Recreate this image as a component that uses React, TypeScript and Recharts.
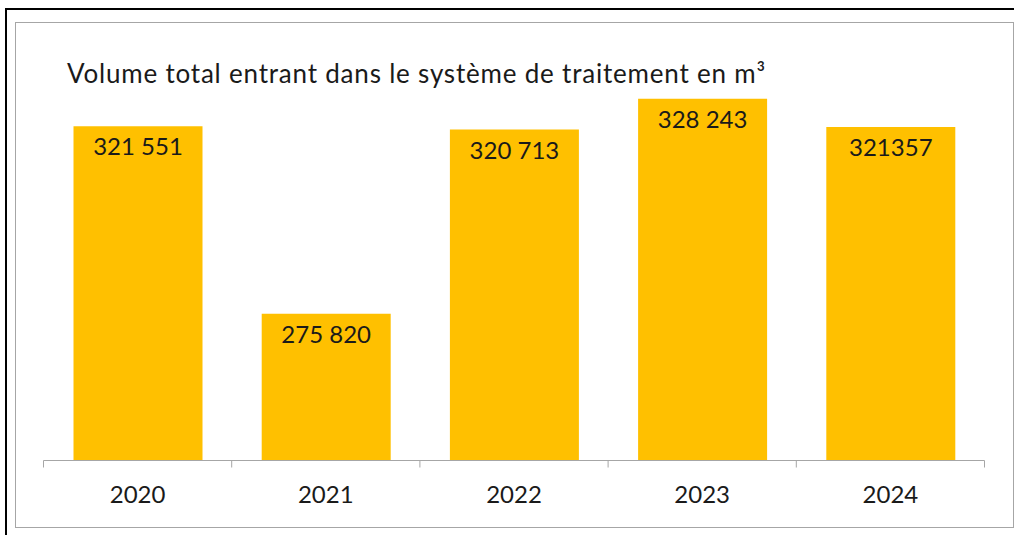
import React from 'react';
import { BarChart, Bar, XAxis, YAxis, LabelList } from 'recharts';

const years = ['2020', '2021', '2022', '2023', '2024'];
const volumes = [321551, 275820, 320713, 328243, 321357];
const valueLabels = ['321 551', '275 820', '320 713', '328 243', '321357'];
const yDomain: [number, number] = [240000, 330000];
const title = 'Volume total entrant dans le système de traitement en m³';

const data = years.map((y, i) => ({ year: y, value: volumes[i], label: valueLabels[i] }));

const W = 1014;
const H = 535;
const M = { top: 91.5, right: 29.5, left: 43.5, bottom: 14.5 };
const XH = 60;
const HALF = (W - M.left - M.right) / (2 * years.length);
const FONT = 'Lato, "Open Sans", sans-serif';
const TXT = '#1a1a1a';
const AXIS = '#a6a6a6';

const AxisTick = (props: any) => {
  const { x, y, payload, index } = props;
  const half = payload && typeof payload.offset === 'number' && payload.offset > 0 ? payload.offset : HALF;
  return (
    <g>
      <line x1={x - half} x2={x - half} y1={y} y2={y + 7} stroke={AXIS} strokeWidth={1} />
      {index === years.length - 1 && (
        <line x1={x + half} x2={x + half} y1={y} y2={y + 7} stroke={AXIS} strokeWidth={1} />
      )}
      <text x={x} y={y + 42.5} textAnchor="middle" fontFamily={FONT} fontSize={24} fill={TXT}>
        {payload.value}
      </text>
    </g>
  );
};

const BarLabel = (props: any) => {
  const { x, y, width, value } = props;
  return (
    <text x={x + width / 2} y={y + 29} textAnchor="middle" fontFamily={FONT} fontSize={24} fill={TXT}>
      {value}
    </text>
  );
};

export default function App() {
  return (
    <div style={{ position: 'absolute', left: 0, top: 0, width: W, height: H, overflow: 'hidden', background: '#fff' }}>
      <div style={{ position: 'absolute', left: 5, top: 8, width: 1030, height: 560, border: '2px solid #000', boxSizing: 'border-box' }} />
      <div style={{ position: 'absolute', left: 15, top: 22, width: 999, height: 506, border: '1px solid #a6a6a6', boxSizing: 'border-box' }} />
      <svg style={{ position: 'absolute', left: 0, top: 0 }} width={W} height={100}>
        <text x={67} y={83} fontFamily={FONT} fontSize={26} letterSpacing={0.8} fill={TXT}>{title}</text>
      </svg>
      <div style={{ position: 'absolute', left: 0, top: 0 }}>
        <BarChart width={W} height={H} data={data} margin={M}>
          <XAxis
            dataKey="year"
            height={XH}
            tickLine={false}
            tickSize={0}
            tickMargin={0}
            axisLine={{ stroke: AXIS, strokeWidth: 1 }}
            tick={<AxisTick />}
            interval={0}
          />
          <YAxis hide domain={yDomain} allowDataOverflow />
          <Bar dataKey="value" fill="#FFC000" barSize={129} isAnimationActive={false}>
            <LabelList dataKey="label" content={<BarLabel />} />
          </Bar>
        </BarChart>
      </div>
    </div>
  );
}
